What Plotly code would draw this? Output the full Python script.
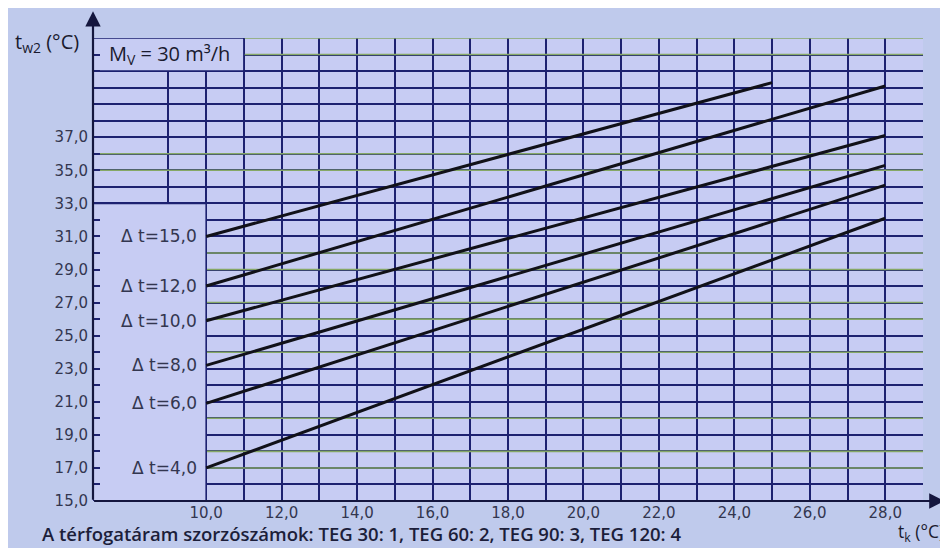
import plotly.graph_objects as go

# ---- data ----
delta_t_labels = ["Δ t=15,0", "Δ t=12,0", "Δ t=10,0", "Δ t=8,0", "Δ t=6,0", "Δ t=4,0"]
tk_start = [10, 10, 10, 10, 10, 10]
tk_end = [25, 28, 28, 28, 28, 28]
tw2_start = [31.0, 28.0, 25.9, 23.2, 20.9, 17.0]
tw2_end = [40.3, 40.1, 37.1, 35.3, 34.1, 32.1]

x_tick_values = [10, 12, 14, 16, 18, 20, 22, 24, 26, 28]
x_tick_labels = ["10,0", "12,0", "14,0", "16,0", "18,0", "20,0", "22,0", "24,0", "26,0", "28,0"]
x_minor_values = [9, 11, 13, 15, 17, 19, 21, 23, 25, 27]
y_tick_values = [15, 17, 19, 21, 23, 25, 27, 29, 31, 33, 35, 37]
y_tick_labels = ["15,0", "17,0", "19,0", "21,0", "23,0", "25,0", "27,0", "29,0", "31,0", "33,0", "35,0", "37,0"]

flow_label = "M<sub>V</sub> = 30 m³/h"
caption = "A térfogatáram szorzószámok: TEG 30: 1, TEG 60: 2, TEG 90: 3, TEG 120: 4"
y_title = "t<sub>w2</sub> (°C)"
x_title = "t<sub>k</sub> (°C)"

# ---- styles ----
NAVY = "#1d2170"
GREEN = "#86a866"
PAPER = "#bfcaec"
PLOTBG = "#c7ccf3"
TXT = "#33364f"
FONT = "Open Sans"
TFONT = "DejaVu Sans"

X0, X1 = 7, 29
Y0, Y1 = 15, 43

fig = go.Figure()

for i in range(len(delta_t_labels)):
    fig.add_trace(go.Scatter(
        x=[tk_start[i], tk_end[i]], y=[tw2_start[i], tw2_end[i]],
        mode="lines", line=dict(color="#111118", width=3),
        showlegend=False, hoverinfo="skip", cliponaxis=False))
    fig.add_annotation(x=tk_start[i], y=tw2_start[i], xref="x", yref="y",
                       text=delta_t_labels[i], showarrow=False,
                       xanchor="right", yanchor="middle", xshift=-7,
                       font=dict(family=TFONT, size=17, color=TXT))

fig.update_xaxes(range=[X0, X1], tickmode="array", tickvals=x_tick_values, ticktext=x_tick_labels,
                 showgrid=True, gridcolor=NAVY, gridwidth=1.6,
                 minor=dict(tickmode="array", tickvals=x_minor_values, showgrid=True,
                            gridcolor=NAVY, gridwidth=1.6, ticks=""),
                 zeroline=False, showline=False, ticks="",
                 ticklabelstandoff=1,
                 tickfont=dict(family=TFONT, size=15, color=TXT))
fig.update_yaxes(range=[Y0, Y1], tickmode="array", tickvals=y_tick_values, ticktext=y_tick_labels,
                 showgrid=True, gridcolor=NAVY, gridwidth=1.6,
                 minor=dict(dtick=1, tick0=0, showgrid=True, gridcolor=NAVY, gridwidth=1.6,
                            ticks="inside", ticklen=7, tickwidth=1.5, tickcolor=NAVY),
                 zeroline=False, showline=False, ticks="inside",
                 ticklen=7, tickwidth=1.5, tickcolor=NAVY,
                 ticklabelstandoff=4,
                 tickfont=dict(family=TFONT, size=15, color=TXT))

shapes = []
# green accent lines
green_rows = [43, 42, 36, 35, 30, 29, 27, 26, 24, 20, 18, 17]
for yv in green_rows:
    if yv >= 42:
        xs = 11
    elif yv >= 33:
        xs = X0
    else:
        xs = 10
    shapes.append(dict(type="line", xref="x", yref="y", x0=xs, x1=X1, y0=yv, y1=yv,
                       line=dict(color=GREEN, width=1.6), layer="between"))
# box for flow-rate label
shapes.append(dict(type="rect", xref="x", yref="y", x0=X0, x1=11, y0=41, y1=43,
                   fillcolor=PLOTBG, line=dict(color=NAVY, width=1.6), layer="between"))
# blank label panel
shapes.append(dict(type="rect", xref="x", yref="y", x0=X0, x1=10, y0=Y0, y1=33,
                   fillcolor=PLOTBG, line=dict(color=NAVY, width=1.6), layer="between"))
fig.update_layout(shapes=shapes)

# axes with arrow heads
fig.add_annotation(xref="paper", yref="paper", x=0, y=1.058, ax=0, ay=490,
                   axref="pixel", ayref="pixel", text="", showarrow=True,
                   arrowhead=2, arrowsize=1.4, arrowwidth=2.2, arrowcolor="#14163e",
                   standoff=0, startstandoff=0)
fig.add_annotation(xref="paper", yref="paper", x=1.026, y=0, ax=-852, ay=0,
                   axref="pixel", ayref="pixel", text="", showarrow=True,
                   arrowhead=2, arrowsize=1.4, arrowwidth=2.2, arrowcolor="#14163e",
                   standoff=0, startstandoff=0)

fig.add_annotation(xref="x", yref="y", x=X0, y=42, text=flow_label, showarrow=False,
                   xanchor="left", yanchor="middle", xshift=14,
                   font=dict(family=FONT, size=20, color="#1a1a2e"))
fig.add_annotation(xref="paper", yref="paper", x=0, y=1, text=y_title, showarrow=False,
                   xanchor="right", yanchor="middle", xshift=-12, yshift=-4,
                   font=dict(family=FONT, size=20, color="#1a1a2e"))
fig.add_annotation(xref="paper", yref="paper", x=0, y=0, text=caption, showarrow=False,
                   xanchor="left", yanchor="bottom", xshift=-53, yshift=-47,
                   font=dict(family=FONT, size=18.5, color="#1c1e3a", weight=600))
fig.add_annotation(xref="paper", yref="paper", x=1.0, y=0, text=x_title, showarrow=False,
                   xanchor="left", yanchor="bottom", xshift=-27, yshift=-47,
                   font=dict(family=FONT, size=17.5, color="#1a1a2e"))

# page body adds an 8px margin; size the figure to fill the rest of the 948x548 window
fig.update_layout(width=940, height=540, autosize=False,
                  margin=dict(l=85, r=25, t=30, b=47),
                  paper_bgcolor=PAPER, plot_bgcolor=PLOTBG,
                  showlegend=False)

fig.write_html("out.html")
